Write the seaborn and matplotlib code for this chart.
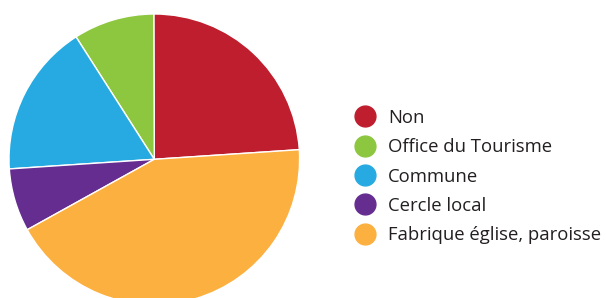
import matplotlib
matplotlib.use("Agg")
import matplotlib.pyplot as plt
from matplotlib.lines import Line2D
import seaborn as sns

labels = ["Non", "Office du Tourisme", "Commune", "Cercle local", "Fabrique église, paroisse"]
shares = [24, 9, 17, 7, 43]
colors = ["#BE1E2D", "#8DC63F", "#27AAE1", "#662D91", "#FBB040"]

sns.set_theme(style="white")
plt.rcParams["font.family"] = ["Open Sans", "DejaVu Sans"]

W, H = 606, 298
fig = plt.figure(figsize=(W / 100, H / 100), dpi=100)

# pie centre ~ (154, 159) px from top-left, radius ~145 px
cx, cy, r = 154.3, 159.3, 145.3
ax = fig.add_axes([(cx - r) / W, (H - cy - r) / H, 2 * r / W, 2 * r / H])
ax.pie(shares, colors=sns.color_palette(colors), startangle=3.8, counterclock=True,
       radius=1, wedgeprops={"edgecolor": "white", "linewidth": 1.0})
ax.set_xlim(-1, 1); ax.set_ylim(-1, 1)
ax.set_aspect("equal")
ax.axis("off")

fs = 13.3
handles = [Line2D([], [], marker="o", linestyle="", markersize=15,
                  markerfacecolor=c, markeredgecolor=c) for c in colors]
fig.legend(handles, labels, loc="center left", bbox_to_anchor=(355.8 / W, (H - 176.5) / H),
           frameon=False, fontsize=fs, handlelength=1.0, handletextpad=0.74,
           labelspacing=0.61, borderpad=0, borderaxespad=0, labelcolor="#231F20")

fig.savefig("out.png", dpi=100)
